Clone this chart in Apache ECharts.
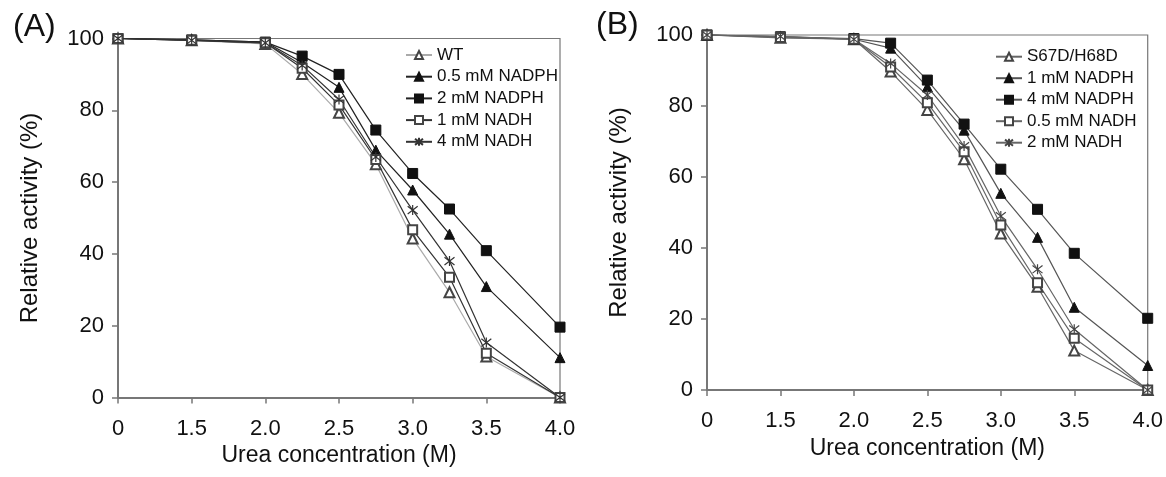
<!DOCTYPE html>
<html>
<head>
<meta charset="utf-8">
<script src="https://cdn.jsdelivr.net/npm/echarts@6/dist/echarts.min.js"></script>
<style>
html,body{margin:0;padding:0;background:#fff;}
#chart{width:1166px;height:477px;}
</style>
</head>
<body>
<div id="chart"></div>
<script>
// Urea concentrations (M) at which activity was measured
const concentrations = [0, 1.5, 2.0, 2.25, 2.5, 2.75, 3.0, 3.25, 3.5, 4.0];
// Tick labels on the (broken) x axis
const xTickLabels = ['0', '1.5', '2.0', '2.5', '3.0', '3.5', '4.0'];
const yTicks = [0, 20, 40, 60, 80, 100];

// Panel A
const namesA = ['WT', '0.5 mM NADPH', '2 mM NADPH', '1 mM NADH', '4 mM NADH'];
const A_WT        = [100, 99.5, 98.5, 90.1, 79.3, 65.0, 44.3, 29.3, 11.4, 0];
const A_NADPH_05  = [100, 99.6, 99.0, 93.3, 86.4, 68.9, 57.8, 45.5, 30.9, 11.1];
const A_NADPH_2   = [100, 99.6, 99.0, 95.1, 90.0, 74.5, 62.4, 52.5, 40.9, 19.6];
const A_NADH_1    = [100, 99.5, 98.8, 91.7, 81.5, 66.3, 46.7, 33.5, 12.3, 0];
const A_NADH_4    = [100, 99.5, 98.8, 92.5, 83.0, 67.0, 52.2, 38.0, 15.3, 0];

// Panel B
const namesB = ['S67D/H68D', '1 mM NADPH', '4 mM NADPH', '0.5 mM NADH', '2 mM NADH'];
const B_MUT       = [100, 99.2, 98.8, 89.7, 78.9, 65.0, 44.1, 29.1, 11.1, 0];
const B_NADPH_1   = [100, 99.5, 98.8, 96.3, 85.4, 73.2, 55.4, 43.0, 23.3, 6.9];
const B_NADPH_4   = [100, 99.5, 99.0, 97.7, 87.3, 74.9, 62.2, 50.9, 38.5, 20.2];
const B_NADH_05   = [100, 99.3, 98.8, 91.0, 80.9, 67.1, 46.5, 30.2, 14.6, 0];
const B_NADH_2    = [100, 99.6, 98.8, 92.0, 83.1, 68.7, 49.0, 34.0, 17.1, 0];

// Broken axis: 0..1.5 takes one tick step, then each 0.5 M takes one step
function axisPos(c) { return c <= 1.5 ? c / 1.5 : 1 + (c - 1.5) * 2; }
function pts(vals) { return concentrations.map((c, i) => [axisPos(c), vals[i]]); }

const FONT = 'Liberation Sans, Arial, Helvetica, sans-serif';
const ASTER = 'path://M0,0L10,10M0,10L10,0M5,-1.5L5,11.5';

function mkSeries(name, vals, sym, idx, lineColor, symColor, size) {
  const s = {
    name: name, type: 'line', data: pts(vals),
    xAxisIndex: idx, yAxisIndex: idx,
    symbol: sym, symbolSize: size, clip: false,
    lineStyle: { color: lineColor, width: 1.2 },
    itemStyle: { color: symColor, borderColor: symColor, borderWidth: 1 },
    emphasis: { disabled: true },
    z: 3
  };
  if (sym === ASTER) {
    s.itemStyle = { color: 'transparent', borderColor: symColor, borderWidth: 1.2 };
  }
  return s;
}

function xAxis(idx) {
  return {
    type: 'value', gridIndex: idx, min: 0, max: 6, interval: 1,
    name: 'Urea concentration (M)', nameLocation: 'middle', nameGap: 45,
    nameTextStyle: { fontSize: 23, color: '#111', fontFamily: FONT },
    axisLine: { show: true, onZero: false, lineStyle: { color: '#777', width: 2 } },
    axisTick: { show: true, inside: false, length: 6, lineStyle: { color: '#777', width: 1.5 } },
    axisLabel: { fontSize: 22, color: '#111', fontFamily: FONT, margin: 20,
      formatter: v => xTickLabels[Math.round(v)] },
    splitLine: { show: false }
  };
}
function yAxis(idx) {
  return {
    type: 'value', gridIndex: idx, min: yTicks[0], max: yTicks[yTicks.length - 1], interval: 20,
    name: 'Relative activity (%)', nameLocation: 'middle', nameGap: 76,
    nameTextStyle: { fontSize: 24, color: '#111', fontFamily: FONT },
    axisLine: { show: true, onZero: false, lineStyle: { color: '#777', width: 2 } },
    axisTick: { show: true, inside: false, length: 6, lineStyle: { color: '#777', width: 1.5 } },
    axisLabel: { fontSize: 22, color: '#111', fontFamily: FONT, margin: 14 },
    splitLine: { show: false }
  };
}

const option = {
  backgroundColor: '#fff',
  animation: false,
  title: [
    { text: '(A)', left: 8, top: 6, textStyle: { fontSize: 32, fontWeight: 'normal', color: '#111', fontFamily: FONT } },
    { text: '(B)', left: 591, top: 4, textStyle: { fontSize: 32, fontWeight: 'normal', color: '#111', fontFamily: FONT } }
  ],
  grid: [
    { left: 118, right: 606, top: 38.5, bottom: 79.5, show: true, borderColor: '#777', borderWidth: 1.2, containLabel: false },
    { left: 707, right: 15, top: 35, bottom: 87, show: true, borderColor: '#777', borderWidth: 1.2, containLabel: false }
  ],
  xAxis: [xAxis(0), xAxis(1)],
  yAxis: [yAxis(0), yAxis(1)],
  legend: [
    { data: namesA, orient: 'vertical', left: 400, top: 41.5, itemWidth: 26, itemHeight: 10, itemGap: 4.7,
      textStyle: { fontSize: 17, lineHeight: 17, color: '#111', fontFamily: FONT }, selectedMode: false },
    { data: namesB, orient: 'vertical', left: 990, top: 43.2, itemWidth: 26, itemHeight: 10, itemGap: 4.5,
      textStyle: { fontSize: 17, lineHeight: 17, color: '#111', fontFamily: FONT }, selectedMode: false }
  ],
  series: [
    mkSeries(namesA[0], A_WT, 'emptyTriangle', 0, '#aaa', '#444', 10),
    mkSeries(namesA[1], A_NADPH_05, 'triangle', 0, '#222', '#111', 10),
    mkSeries(namesA[2], A_NADPH_2, 'rect', 0, '#222', '#111', 10),
    mkSeries(namesA[3], A_NADH_1, 'emptyRect', 0, '#333', '#444', 9),
    mkSeries(namesA[4], A_NADH_4, ASTER, 0, '#333', '#333', 10),
    mkSeries(namesB[0], B_MUT, 'emptyTriangle', 1, '#666', '#444', 10),
    mkSeries(namesB[1], B_NADPH_1, 'triangle', 1, '#555', '#111', 10),
    mkSeries(namesB[2], B_NADPH_4, 'rect', 1, '#555', '#111', 10),
    mkSeries(namesB[3], B_NADH_05, 'emptyRect', 1, '#666', '#444', 9),
    mkSeries(namesB[4], B_NADH_2, ASTER, 1, '#666', '#444', 10)
  ]
};

const chart = echarts.init(document.getElementById('chart'), null, { renderer: 'canvas' });
chart.setOption(option);
</script>
</body>
</html>
